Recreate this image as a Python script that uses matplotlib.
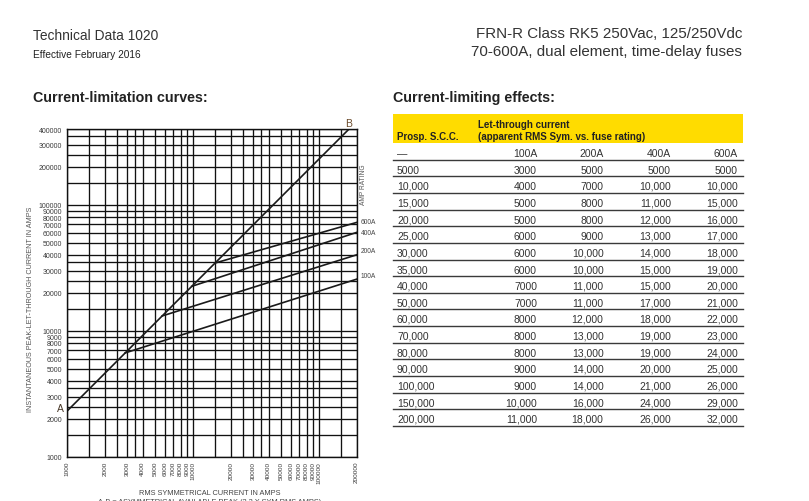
import matplotlib
matplotlib.use('Agg')
import numpy as np
import matplotlib.pyplot as plt
from matplotlib.figure import Figure
from matplotlib.backends.backend_agg import FigureCanvasAgg
from matplotlib.ticker import FixedLocator, NullFormatter, FixedFormatter

plt.rcParams['font.family'] = ['Liberation Sans', 'DejaVu Sans']

# ---------------- chart data ----------------
x_label_values = [1000, 2000, 3000, 4000, 5000, 6000, 7000, 8000, 9000, 10000,
                  20000, 30000, 40000, 50000, 60000, 70000, 80000, 90000, 100000, 200000]
x_grid_values = [1000, 1500, 2000, 2500, 3000, 3500, 4000, 5000, 6000, 7000, 8000, 9000,
                 10000, 15000, 20000, 25000, 30000, 35000, 40000, 50000, 60000, 70000,
                 80000, 90000, 100000, 150000, 200000]
y_label_values = [1000, 2000, 3000, 4000, 5000, 6000, 7000, 8000, 9000, 10000,
                  20000, 30000, 40000, 50000, 60000, 70000, 80000, 90000, 100000,
                  200000, 300000, 400000]
y_grid_values = [1000, 1500, 2000, 2500, 3000, 3500, 4000, 5000, 6000, 7000, 8000, 9000,
                 10000, 15000, 20000, 25000, 30000, 35000, 40000, 50000, 60000, 70000,
                 80000, 90000, 100000, 150000, 200000, 250000, 300000, 350000, 400000]
x_range = [1000, 200000]
y_range = [1000, 400000]

ab_factor = 2.3                     # A-B line: peak = 2.3 x sym RMS
fuse_ratings = ['100A', '200A', '400A', '600A']
knee_current = [2900, 5700, 9800, 15000]      # where each curve leaves the A-B line
end_current = 200000
end_peak = [25700, 40100, 60400, 72500]       # peak let-through at 200,000 A
label_offset_px = [4, 4, 0, 1]

# ---------------- table data ----------------
prosp_scc = [5000, 10000, 15000, 20000, 25000, 30000, 35000, 40000, 50000, 60000,
             70000, 80000, 90000, 100000, 150000, 200000]
let_100 = [3000, 4000, 5000, 5000, 6000, 6000, 6000, 7000, 7000, 8000, 8000, 8000,
           9000, 9000, 10000, 11000]
let_200 = [5000, 7000, 8000, 8000, 9000, 10000, 10000, 11000, 11000, 12000, 13000, 13000,
           14000, 14000, 16000, 18000]
let_400 = [5000, 10000, 11000, 12000, 13000, 14000, 15000, 15000, 17000, 18000, 19000,
           19000, 20000, 21000, 24000, 26000]
let_600 = [5000, 10000, 15000, 16000, 17000, 18000, 19000, 20000, 21000, 22000, 23000,
           24000, 25000, 26000, 29000, 32000]


def fmt(v):
    return f"{v:,}" if v >= 10000 else str(v)


W, H = 809, 502
FRAC = 0.3
_cache = {}


def ink_bottom(s, size):
    """Lowest inked row of the last glyph when drawn on a baseline with fraction FRAC."""
    key = (s, size)
    if key not in _cache:
        f = Figure(figsize=(1.6, 0.5), dpi=100)
        FigureCanvasAgg(f)
        a = f.add_axes([0, 0, 1, 1])
        a.set_xlim(0, 160)
        a.set_ylim(50, 0)
        a.axis('off')
        a.text(150.0, 30 + FRAC, s, fontsize=size, va='baseline', ha='right', color='k')
        f.canvas.draw()
        img = np.asarray(f.canvas.buffer_rgba())[:, :, 0]
        cols = img[:, 146:150]
        rows = np.where((cols < 140).any(axis=1))[0]
        _cache[key] = int(rows.max()) if len(rows) else 0
    return _cache[key]


fig = plt.figure(figsize=(W / 100, H / 100), dpi=100)

# overlay in pixel coordinates for page text + table
ov = fig.add_axes([0, 0, 1, 1], zorder=0)
ov.set_xlim(0, W)
ov.set_ylim(H, 0)
ov.axis('off')


def txt(x, y, s, size, **kw):
    # y is the visual centre of capital letters; place on a baseline
    ov.text(x, round(y + size * 0.5) + FRAC, s, fontsize=size, va='baseline', **kw)


def cell(x, y, s, size, **kw):
    shift = ink_bottom(s, size) - ink_bottom('5000', size)
    ov.text(x, round(y + size * 0.5) + FRAC - shift, s, fontsize=size, va='baseline', **kw)


ink = '#222222'
txt(33, 35, 'Technical Data 1020', 9.9, color='#333333', ha='left')
txt(33, 54, 'Effective February 2016', 7.3, color=ink, ha='left')
txt(33, 97, 'Current-limitation curves:', 10.3, weight='bold', color=ink, ha='left')
txt(742, 33, 'FRN-R Class RK5 250Vac, 125/250Vdc', 10.9, color='#333333', ha='right')
txt(742, 51, '70-600A, dual element, time-delay fuses', 10.9, color='#333333', ha='right')
txt(393, 97, 'Current-limiting effects:', 10.3, weight='bold', color=ink, ha='left')

# table
tl, tr = 393, 743
ov.add_patch(plt.Rectangle((tl, 115), tr - tl, 28.5, color='#FFDC00', lw=0))
txt(397, 136, 'Prosp. S.C.C.', 7, weight='bold', color=ink, ha='left')
txt(478, 124.5, 'Let-through current', 7, weight='bold', color=ink, ha='left')
txt(478, 136, '(apparent RMS Sym. vs. fuse rating)', 7, weight='bold', color=ink, ha='left')

col_right = [537, 603.5, 671, 738]
row0 = 153.3
dy = 16.64
txt(397, row0, '—', 7.5, color='#333333', ha='left')
for c, r in zip(col_right, fuse_ratings):
    txt(c, row0, r, 7.5, color='#333333', ha='right')
ov.plot([tl, tr], [row0 + 7.4, row0 + 7.4], color='#3a3a3a', lw=1.0)
cols = [let_100, let_200, let_400, let_600]
for i, p in enumerate(prosp_scc):
    yy = row0 + dy * (i + 1)
    cell(397, yy, fmt(p), 7.5, color='#333333', ha='left')
    for c, vals in zip(col_right, cols):
        cell(c, yy, fmt(vals[i]), 7.5, color='#333333', ha='right')
    ov.plot([tl, tr], [yy + 7.4, yy + 7.4], color='#3a3a3a', lw=1.0)

# chart labels in page coordinates
ov.text(30.5, 309, 'INSTANTANEOUS PEAK-LET-THROUGH CURRENT IN AMPS', fontsize=5.2,
        color='#555555', rotation=90, va='center', ha='center')
ov.text(210, 493.5, 'RMS SYMMETRICAL CURRENT IN AMPS', fontsize=5.3, color='#444444',
        va='center', ha='center')
ov.text(210, 499, 'A-B = ASYMMETRICAL AVAILABLE PEAK (2.3 X SYM RMS AMPS)', fontsize=5.3,
        color='#444444', va='top', ha='center')
ov.text(363.5, 185, 'AMP RATING', fontsize=4.8, color='#555555', rotation=90,
        va='center', ha='center')

# ---------------- chart ----------------
ax = fig.add_axes([67 / W, (H - 457.7) / H, 289.7 / W, 327.7 / H], zorder=1)
ax.set_xscale('log')
ax.set_yscale('log')
ax.set_xlim(*x_range)
ax.set_ylim(*y_range)

ax.xaxis.set_major_locator(FixedLocator(x_label_values))
ax.xaxis.set_major_formatter(FixedFormatter([str(v) for v in x_label_values]))
ax.xaxis.set_minor_locator(FixedLocator(x_grid_values))
ax.xaxis.set_minor_formatter(NullFormatter())
ax.yaxis.set_major_locator(FixedLocator(y_label_values))
ax.yaxis.set_major_formatter(FixedFormatter([str(v) for v in y_label_values]))
ax.yaxis.set_minor_locator(FixedLocator(y_grid_values))
ax.yaxis.set_minor_formatter(NullFormatter())

ax.tick_params(which='both', length=0)
ax.tick_params(axis='x', which='major', labelsize=4.6, labelcolor='#3a3a3a', pad=3,
               labelrotation=90)
ax.tick_params(axis='y', which='major', labelsize=5, labelcolor='#3a3a3a', pad=3.5)
for lbl in ax.get_xticklabels():
    lbl.set_verticalalignment('top')

ax.grid(which='both', color='#111111', lw=0.95)
ax.set_axisbelow(True)
for s in ax.spines.values():
    s.set_color('#111111')
    s.set_linewidth(1.0)

# A-B line
ab_x = [x_range[0], x_range[1]]
ax.plot(ab_x, [ab_factor * v for v in ab_x], color='#1a1a1a', lw=1.2, solid_capstyle='butt')

# fuse curves
for r, kx, ey, off in zip(fuse_ratings, knee_current, end_peak, label_offset_px):
    ax.plot([kx, end_current], [ab_factor * kx, ey], color='#1a1a1a', lw=1.2)
    ax.annotate(r, (end_current, ey), xytext=(4, off), textcoords='offset pixels',
                fontsize=4.8, color='#444444', va='center', ha='left', annotation_clip=False)

ax.annotate('A', (x_range[0], ab_factor * x_range[0]), xytext=(-7, 3),
            textcoords='offset pixels', fontsize=7.5, color='#4a3a2a', va='center',
            ha='center', annotation_clip=False)
ax.annotate('B', (y_range[1] / ab_factor, y_range[1]), xytext=(0, 6),
            textcoords='offset pixels', fontsize=7.5, color='#6a4a2a', va='center',
            ha='center', annotation_clip=False)

fig.savefig('out.png', dpi=100)
